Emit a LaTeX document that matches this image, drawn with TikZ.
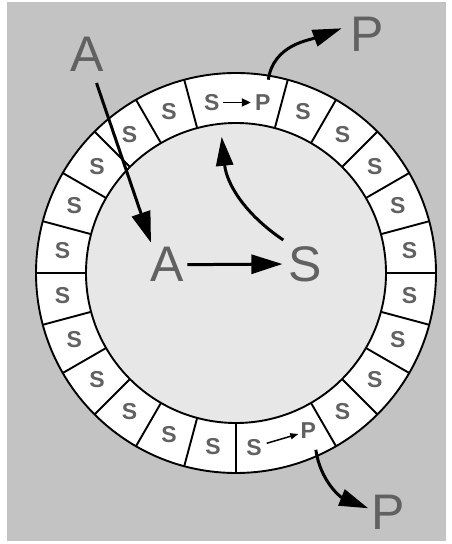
\documentclass[tikz,border=0pt]{standalone}
\usepackage{fontspec}
\setmainfont{Liberation Sans}
\usetikzlibrary{arrows.meta,calc}
\definecolor{bggray}{HTML}{C3C3C3}
\definecolor{diskgray}{HTML}{E7E7E7}
\definecolor{txtgray}{HTML}{616161}
\begin{document}
\begin{tikzpicture}[x=1pt,y=1pt,
  bigletter/.style={text=txtgray, font=\fontsize{50}{50}\selectfont, inner sep=0pt},
  cellletter/.style={text=txtgray, font=\fontsize{23}{23}\selectfont\bfseries, inner sep=0pt},
  ringline/.style={line width=1.9pt},
  bigarrow/.style={line width=3pt, -{Triangle[length=31pt,width=19pt]}},
  curvearrow/.style={line width=3pt, -{Triangle[length=29pt,width=17pt]}},
  smallarrow/.style={line width=1.9pt, -{Triangle[length=9pt,width=8pt]}},
  tinyarrow/.style={line width=1.5pt, -{Triangle[length=8pt,width=6pt]}}]
\useasboundingbox (0,0) rectangle (452,544);
\fill[white] (0,0) rectangle (452,544);
\fill[bggray] (7,3) rectangle (446,542);
\coordinate (C) at (236,271);
% ring and disk
\fill[white] (C) circle (200);
\fill[diskgray] (C) circle (150);
\foreach \a in {0,15,30,45,60,75,105,120,135,150,165,180,195,210,225,240,255,270,300,315,330,345}
  \draw[ringline] ($(C)+(\a:150)$) -- ($(C)+(\a:200)$);
\draw[ringline] (C) circle (200);
\draw[ringline] (C) circle (150);
% cell labels
\foreach \a [count=\i] in {7.5,22.5,37.5,52.5,67.5,112.5,127.5,142.5,157.5,172.5,187.5,202.5,217.5,232.5,247.5,262.5,307.5,322.5,337.5,352.5}
  \node[cellletter] (s\i) at ($(C)+(\a:175)$) {S};
% S -> P cells
\node[cellletter] (St) at (211.7,441.5) {S};
\node[cellletter] (Pt) at (262.7,441.5) {P};
\draw[smallarrow, shorten <=3.5pt, shorten >=4pt] (St.east) -- (Pt.west);
\node[cellletter] (Sb) at (254,96) {S};
\node[cellletter] (Pb) at (308.3,113.2) {P};
\draw[tinyarrow] ($(Sb.center)+(12.7,4.7)$) -- ($(Pb.center)+(-10,-3.2)$);
% big letters
\node[bigletter] (Atop) at (87.5,490) {A};
\node[bigletter] (Ain) at (167,279.3) {A};
\node[bigletter] (Sin) at (305.3,280) {S};
\node[bigletter] (Ptop) at (367,510) {P};
\node[bigletter] (Pbot) at (388,31.5) {P};
% arrows
\draw[bigarrow] ($(Atop.center)+(9,-29)$) -- ($(Ain.center)+(-16,22)$);
\draw[bigarrow, shorten <=3.4pt, shorten >=6pt] (Ain.east) -- (Sin.west);
\coordinate (tipc) at ($(C)+(96:137)$);
\draw[curvearrow] ($(Sin.center)+(-22,24)$) to[out=146,in=-84] (tipc);
\coordinate (outtop) at ($(C)+(80.5:196)$);
\draw[curvearrow] (outtop) to[out=82,in=200] ($(Ptop.center)+(-25.3,5.7)$);
\coordinate (outbot) at ($(C)+(294.3:194)$);
\draw[curvearrow] (outbot) to[out=-82,in=158] ($(Pbot.center)+(-19.7,4.2)$);
\end{tikzpicture}
\end{document}
